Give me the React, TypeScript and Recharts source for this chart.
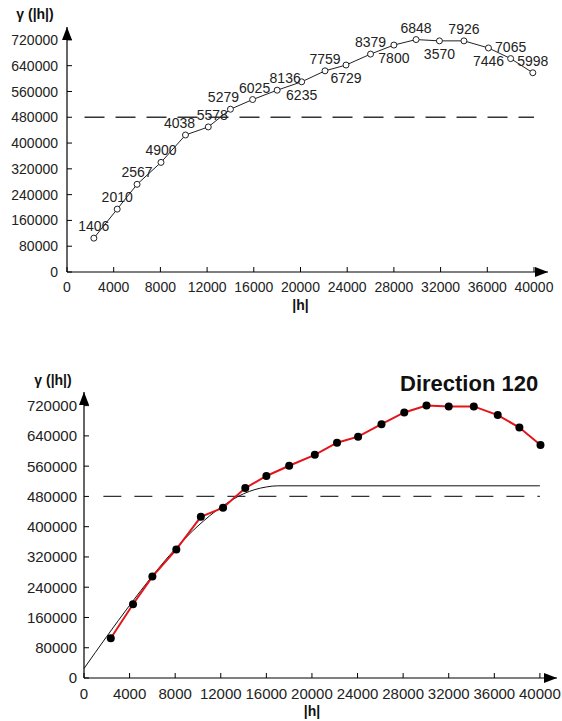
import React from 'react';
import { LineChart, Line, XAxis, YAxis, ReferenceLine, LabelList } from 'recharts';

// lag distances (|h|)
const lagsTop = [2300, 4300, 6000, 8050, 10150, 12100, 14000, 15900, 18000, 20100, 22100, 23900, 26000, 28000, 29900, 31900, 34000, 36100, 38000, 39900];
const gammaTop = [105000, 195000, 272000, 340000, 425000, 450000, 505000, 535000, 564000, 590000, 624000, 642000, 676000, 704000, 721000, 717000, 717000, 695000, 662000, 618000];
const pairCounts = [1406, 2010, 2567, 4900, 4038, 5578, 5279, 6025, 8136, 6235, 7759, 6729, 8379, 7800, 6848, 3570, 7926, 7446, 7065, 5998];

const lagsBottom = [2350, 4300, 6000, 8100, 10250, 12200, 14150, 16000, 18000, 20250, 22200, 24050, 26100, 28100, 30050, 32000, 34200, 36300, 38200, 40050];
const gammaBottom = [105000, 195000, 268000, 340000, 426000, 450000, 502000, 534000, 561000, 590000, 622000, 638000, 671000, 702000, 720000, 718000, 718000, 695000, 662000, 616000];

// fitted model curve
const modelLags = [0, 2000, 4000, 6000, 8000, 10000, 12000, 14000, 16000, 17000, 40000];
const modelGamma = [25000, 110000, 192000, 270000, 341000, 402000, 451000, 487000, 505000, 508000, 508000];

const sill = 480000;
const xTicks = [0, 4000, 8000, 12000, 16000, 20000, 24000, 28000, 32000, 36000, 40000];
const yTicks = [0, 80000, 160000, 240000, 320000, 400000, 480000, 560000, 640000, 720000];

const topData = lagsTop.map((x, i) => ({ x, y: gammaTop[i], n: pairCounts[i] }));
const bottomData = lagsBottom.map((x, i) => ({ x, y: gammaBottom[i] }));
const modelData = modelLags.map((x, i) => ({ x, y: modelGamma[i] }));

// which pair-count labels sit under their point, and small sideways nudges where they crowd
const labelsBelow = [9, 11, 13, 15, 17];
const labelNudge: Record<number, number> = { 4: -6, 5: 4, 6: -7, 7: 2, 8: 8 };

const FONT = '"Liberation Sans", Arial, sans-serif';

const makeXTick = (fontSize: number, dy: number) => (props: any) => {
  const { x, y, payload } = props;
  return (
    <g>
      <line x1={x} x2={x} y1={y} y2={y - 5} stroke="#000" />
      <text x={x} y={y + dy} textAnchor="middle" fontSize={fontSize} fill="#222" fontFamily={FONT}>
        {payload.value}
      </text>
    </g>
  );
};

const makeYTick = (fontSize: number, gap: number) => (props: any) => {
  const { x, y, payload } = props;
  return (
    <g>
      <line x1={x} x2={x + 5} y1={y} y2={y} stroke="#000" />
      <text x={x - gap} y={y + fontSize * 0.36} textAnchor="end" fontSize={fontSize} fill="#222" fontFamily={FONT}>
        {payload.value}
      </text>
    </g>
  );
};

const Arrows = ({ id }: { id: string }) => (
  <defs>
    <marker id={id} markerWidth={13} markerHeight={10} refX={13} refY={5} orient="auto-start-reverse" markerUnits="userSpaceOnUse">
      <path d="M0,0 L13,5 L0,10 z" fill="#000" />
    </marker>
  </defs>
);

const PairLabel = (props: any) => {
  const { x, y, value, index } = props;
  const below = labelsBelow.includes(index);
  const dx = labelNudge[index] || 0;
  return (
    <text x={x + dx} y={below ? y + 18 : y - 7} textAnchor="middle" fontSize={14} fill="#222" fontFamily={FONT}>
      {value}
    </text>
  );
};

const hLabel = (max: number, fontSize: number, dy: number) => (props: any) => {
  const { viewBox } = props;
  const cx = viewBox.x + (viewBox.width * 20000) / max;
  return (
    <text x={cx} y={viewBox.y + dy} textAnchor="middle" fontSize={fontSize} fontWeight="bold" fill="#111" fontFamily={FONT}>
      |h|
    </text>
  );
};

const gammaLabel = (cx: number, dy: number, fontSize: number) => (props: any) => {
  const { viewBox } = props;
  return (
    <text x={cx} y={viewBox.y + dy} textAnchor="middle" fontSize={fontSize} fontWeight="bold" fill="#111" fontFamily={FONT}>
      γ (|h|)
    </text>
  );
};

export default function App() {
  const xMaxTop = 41200;
  const xMaxBottom = 41500;
  return (
    <div style={{ position: 'absolute', left: 0, top: 0, width: 562, height: 721, background: '#fff', fontFamily: FONT }}>
      <div style={{ position: 'absolute', left: 0, top: 0 }}>
        <LineChart width={562} height={320} margin={{ top: 27, right: 14, bottom: 8, left: 0 }}>
          <Arrows id="arrowTop" />
          <XAxis
            type="number"
            dataKey="x"
            domain={[0, xMaxTop]}
            ticks={xTicks}
            height={40}
            tickSize={0}
            tickMargin={0}
            tickLine={false}
            tick={makeXTick(14, 20)}
            axisLine={{ stroke: '#000', strokeWidth: 1.2, markerEnd: 'url(#arrowTop)' }}
            label={{ content: hLabel(xMaxTop, 14, 38) }}
          />
          <YAxis
            type="number"
            domain={[0, 760000]}
            ticks={yTicks}
            width={67}
            tickSize={0}
            tickMargin={0}
            tickLine={false}
            tick={makeYTick(14, 9)}
            axisLine={{ stroke: '#000', strokeWidth: 1.2, markerStart: 'url(#arrowTop)' }}
            label={{ content: gammaLabel(35, -8, 14) }}
          />
          <ReferenceLine
            segment={[{ x: 1500, y: sill }, { x: 40000, y: sill }]}
            stroke="#333"
            strokeWidth={1.3}
            strokeDasharray="20 11"
          />
          <Line
            data={topData}
            dataKey="y"
            type="linear"
            stroke="#222"
            strokeWidth={1}
            dot={{ r: 3, fill: '#fff', stroke: '#222', strokeWidth: 1 }}
            isAnimationActive={false}
          >
            <LabelList dataKey="n" content={PairLabel} />
          </Line>
        </LineChart>
      </div>
      <div style={{ position: 'absolute', left: 0, top: 340 }}>
        <LineChart width={562} height={381} margin={{ top: 52, right: 5, bottom: 3, left: 0 }}>
          <Arrows id="arrowBottom" />
          <XAxis
            type="number"
            dataKey="x"
            domain={[0, xMaxBottom]}
            ticks={xTicks}
            height={40}
            tickSize={0}
            tickMargin={0}
            tickLine={false}
            tick={makeXTick(15, 21)}
            axisLine={{ stroke: '#000', strokeWidth: 1.2, markerEnd: 'url(#arrowBottom)' }}
            label={{ content: hLabel(xMaxBottom, 14, 38) }}
          />
          <YAxis
            type="number"
            domain={[0, 756000]}
            ticks={yTicks}
            width={84}
            tickSize={0}
            tickMargin={0}
            tickLine={false}
            tick={makeYTick(15, 7)}
            axisLine={{ stroke: '#000', strokeWidth: 1.2, markerStart: 'url(#arrowBottom)' }}
            label={{ content: gammaLabel(53, -7, 14) }}
          />
          <ReferenceLine
            segment={[{ x: 1700, y: sill }, { x: 40000, y: sill }]}
            stroke="#333"
            strokeWidth={1.3}
            strokeDasharray="18 13"
          />
          <Line
            data={modelData}
            dataKey="y"
            type="monotone"
            stroke="#111"
            strokeWidth={1}
            dot={false}
            isAnimationActive={false}
          />
          <Line
            data={bottomData}
            dataKey="y"
            type="linear"
            stroke="#e3151b"
            strokeWidth={2}
            dot={{ r: 4, fill: '#000', stroke: '#000', strokeWidth: 0 }}
            isAnimationActive={false}
          />
        </LineChart>
      </div>
      <div
        style={{
          position: 'absolute',
          left: 400,
          top: 371,
          fontSize: 22,
          lineHeight: '26px',
          fontWeight: 'bold',
          color: '#111',
          whiteSpace: 'nowrap',
        }}
      >
        Direction 120
      </div>
    </div>
  );
}
